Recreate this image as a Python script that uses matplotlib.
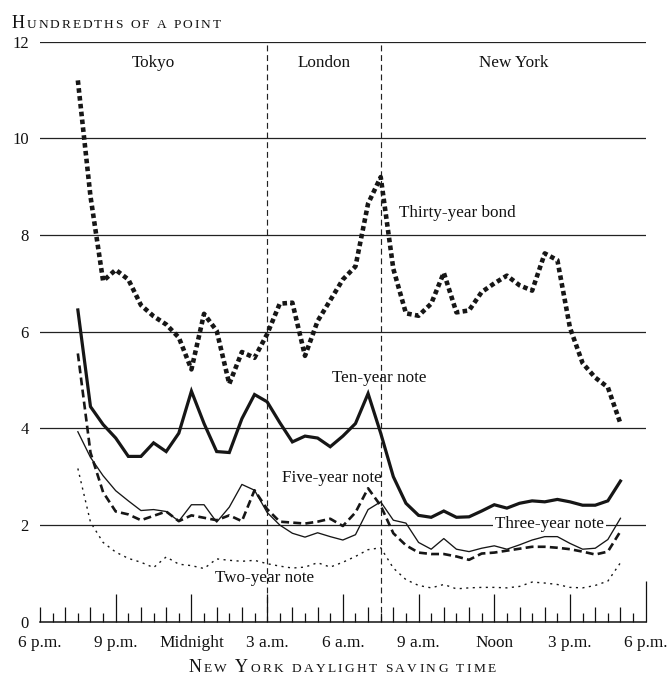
import numpy as np
import matplotlib
matplotlib.use("Agg")
import matplotlib.pyplot as plt

# ---------------- data (hundredths of a point) ----------------
start_hour = 1.5            # 7:30 p.m., hours after 6 p.m.
step_hour = 0.5
thirty_year = [11.2, 8.8, 7.05, 7.28, 7.08, 6.55, 6.32, 6.15, 5.88, 5.22, 6.37, 6.02,
               4.92, 5.58, 5.46, 5.95, 6.58, 6.6, 5.5, 6.22, 6.65, 7.08, 7.35, 8.65,
               9.2, 7.3, 6.38, 6.33, 6.58, 7.22, 6.4, 6.44, 6.82, 7.0, 7.16, 6.96,
               6.85, 7.62, 7.48, 6.08, 5.35, 5.05, 4.85, 4.1]
ten_year = [6.45, 4.45, 4.08, 3.8, 3.42, 3.42, 3.7, 3.52, 3.9, 4.77, 4.1, 3.52,
            3.5, 4.2, 4.7, 4.55, 4.12, 3.72, 3.84, 3.8, 3.62, 3.84, 4.1, 4.72,
            3.9, 3.0, 2.45, 2.2, 2.16, 2.29, 2.16, 2.17, 2.29, 2.42, 2.35, 2.45,
            2.5, 2.48, 2.53, 2.48, 2.41, 2.41, 2.5, 2.91]
five_year = [5.55, 3.5, 2.68, 2.28, 2.22, 2.1, 2.19, 2.28, 2.08, 2.2, 2.15, 2.1,
             2.2, 2.08, 2.72, 2.33, 2.07, 2.05, 2.03, 2.07, 2.13, 1.98, 2.26, 2.76,
             2.4, 1.83, 1.58, 1.43, 1.4, 1.4, 1.35, 1.28, 1.41, 1.43, 1.47, 1.51,
             1.55, 1.55, 1.53, 1.5, 1.45, 1.39, 1.45, 1.87]
three_year = [3.93, 3.4, 3.02, 2.71, 2.5, 2.3, 2.32, 2.28, 2.08, 2.42, 2.42, 2.06,
              2.37, 2.84, 2.72, 2.26, 2.0, 1.83, 1.75, 1.84, 1.76, 1.69, 1.8, 2.32,
              2.48, 2.1, 2.04, 1.64, 1.5, 1.72, 1.5, 1.45, 1.52, 1.57, 1.5, 1.59,
              1.69, 1.76, 1.76, 1.62, 1.5, 1.52, 1.7, 2.14]
two_year = [3.17, 2.06, 1.64, 1.44, 1.31, 1.23, 1.12, 1.34, 1.19, 1.16, 1.1, 1.3,
            1.27, 1.25, 1.27, 1.2, 1.15, 1.11, 1.13, 1.22, 1.13, 1.23, 1.35, 1.49,
            1.53, 1.11, 0.87, 0.75, 0.7, 0.77, 0.68, 0.7, 0.71, 0.71, 0.7, 0.73,
            0.82, 0.8, 0.77, 0.71, 0.7, 0.75, 0.84, 1.22]

tick_hours = [0, 3, 6, 9, 12, 15, 18, 21, 24]
tick_labels = ["6 p.m.", "9 p.m.", "Midnight", "3 a.m.", "6 a.m.", "9 a.m.",
               "Noon", "3 p.m.", "6 p.m."]
y_ticks = [0, 2, 4, 6, 8, 10, 12]
session_bounds = [9, 13.5]            # 3 a.m. and 7:30 a.m.
session_names = ["Tokyo", "London", "New York"]
session_centers = [4.5, 11.25, 18.75]

hours = start_hour + step_hour * np.arange(len(thirty_year))

# ---------------- figure ----------------
W, H = 669, 677
fig = plt.figure(figsize=(W / 100, H / 100), dpi=100)
SERIF = ["Liberation Serif", "DejaVu Serif"]
plt.rcParams["font.family"] = SERIF

ax = fig.add_axes([40 / W, 1 - 621.7 / H, 605.7 / W, 580 / H])
ax.set_xlim(0, 24)
ax.set_ylim(0, 12)
for s in ["top", "right", "left"]:
    ax.spines[s].set_visible(False)
ax.spines["bottom"].set_linewidth(1.1)
ax.spines["bottom"].set_color("#111111")

# gridlines
for yv in y_ticks[1:]:
    ax.axhline(yv, color="#222222", lw=0.9, zorder=1)

# session boundaries
for xb in session_bounds:
    ax.plot([xb, xb], [0, 12], color="#222222", lw=0.85,
            linestyle=(0, (5.0, 3.2)), zorder=1)

# series
ink = "#161616"
ax.plot(hours, thirty_year, color=ink, lw=3.3, linestyle=(0, (1.0, 0.72)),
        dash_capstyle="butt", solid_joinstyle="miter", zorder=4)
ax.plot(hours, ten_year, color=ink, lw=2.3, zorder=4, solid_joinstyle="miter")
ax.plot(hours, five_year, color=ink, lw=1.9, linestyle=(0, (3.0, 1.6)),
        dash_capstyle="butt", zorder=4)
ax.plot(hours, three_year, color=ink, lw=0.95, zorder=4)
ax.plot(hours, two_year, color=ink, lw=1.0, linestyle=(0, (1.5, 3.2)),
        dash_capstyle="butt", zorder=4)

# axis labels
ax.set_xticks(tick_hours)
ax.set_xticklabels(tick_labels, fontsize=12.4, color="#111111")
ax.tick_params(axis="x", length=0, pad=9.5)
ax.set_yticks(y_ticks)
ax.set_yticklabels([str(v) for v in y_ticks], fontsize=12.0, color="#111111")
ax.tick_params(axis="y", length=0, pad=8)

# ticks drawn along axis (half-hour, hour, 3-hour)
px_to_ax = 1 / 580.0
xt = ax.get_xaxis_transform()
for k in range(0, 49):
    hx = k * 0.5
    if k == 48:
        L = 41
    elif k == 0:
        L = 15
    elif k % 6 == 0:
        L = 27.6
    elif k % 2 == 0:
        L = 15
    else:
        L = 8.3
    ax.plot([hx, hx], [0, L * px_to_ax], transform=xt, color="#111111",
            lw=0.9, solid_capstyle="butt", clip_on=False, zorder=3)

# session names
for name, cx in zip(session_names, session_centers):
    ax.text(cx, 11.55, name, ha="center", va="center", fontsize=12.3, color="#111111")

# series labels
ax.text(14.22, 8.46, "Thirty-year bond", ha="left", va="center", fontsize=12.3, color="#111111", zorder=5)
ax.text(11.56, 5.04, "Ten-year note", ha="left", va="center", fontsize=12.3, color="#111111", zorder=5)
ax.text(9.57, 2.97, "Five-year note", ha="left", va="center", fontsize=12.3, color="#111111", zorder=5)
ax.text(18.03, 2.03, "Three-year note", ha="left", va="center", fontsize=12.3, color="#111111",
        zorder=2, bbox=dict(boxstyle="square,pad=0.1", fc="white", ec="none"))
ax.text(6.93, 0.9, "Two-year note", ha="left", va="center", fontsize=12.3, color="#111111", zorder=5)

# small-caps helper
renderer = fig.canvas.get_renderer()


def small_caps(x_px, y_px, parts, big=13.0, small=9.6, track=1.6, align="left"):
    # parts: list of (text, is_big)
    items = []
    for txt, isbig in parts:
        for ch in txt:
            items.append((ch, big if isbig else small))
    widths = []
    for ch, sz in items:
        if ch == " ":
            t = fig.text(0, 0, "a a", fontsize=sz)
            t2 = fig.text(0, 0, "aa", fontsize=sz)
            w = t.get_window_extent(renderer).width - t2.get_window_extent(renderer).width
            t.remove(); t2.remove()
        else:
            t = fig.text(0, 0, ch, fontsize=sz)
            w = t.get_window_extent(renderer).width
            t.remove()
        widths.append(w)
    total = sum(widths) + track * (len(items) - 1)
    x = x_px - total / 2 if align == "center" else x_px
    for (ch, sz), w in zip(items, widths):
        if ch != " ":
            fig.text(x / W, 1 - y_px / H, ch, fontsize=sz, ha="left", va="baseline",
                     color="#111111")
        x += w + track


small_caps(11.7, 27.7, [("H", True), ("UNDREDTHS OF A POINT", False)], track=1.95)
small_caps(342, 672, [("N", True), ("EW ", False), ("Y", True),
                      ("ORK DAYLIGHT SAVING TIME", False)], align="center", track=2.4)

fig.savefig("out.png", dpi=100)
